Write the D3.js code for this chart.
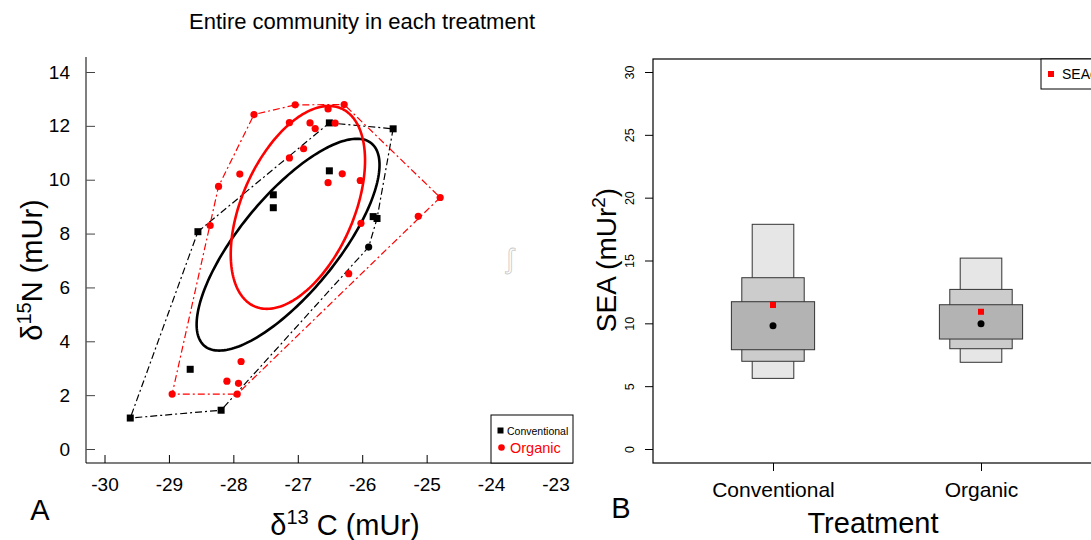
<!DOCTYPE html>
<html>
<head>
<meta charset="utf-8">
<script src="https://cdnjs.cloudflare.com/ajax/libs/d3/7.8.5/d3.min.js"></script>
<style>
  body { margin: 0; background: #fff; }
  text { font-family: "Liberation Sans", Arial, sans-serif; }
</style>
</head>
<body>
<div class="chart"></div>
<script>
// ---- data: panel A (isotope values per sample) ----
var convC = [-29.60, -28.19, -28.67, -28.55, -27.38, -27.38, -26.51, -26.51, -25.52, -25.83, -25.77];
var convN = [1.15, 1.44, 2.96, 8.07, 9.44, 8.96, 12.11, 10.33, 11.89, 8.63, 8.56];
// one conventional sample is plotted with a round symbol
var convRoundC = [-25.90];
var convRoundN = [7.50];

var orgC = [-28.95, -27.94, -28.10, -27.92, -27.88, -28.36, -28.23, -27.90, -27.68, -27.04,
            -26.53, -26.28, -27.13, -26.81, -26.73, -26.91, -27.13, -26.53, -26.42, -26.31,
            -26.03, -24.79, -25.13, -26.02, -26.21];
var orgN = [2.04, 2.04, 2.52, 2.44, 3.25, 8.30, 9.75, 10.21, 12.42, 12.78,
            12.63, 12.79, 12.12, 12.11, 11.90, 11.15, 10.81, 9.89, 12.10, 10.22,
            9.97, 9.34, 8.64, 8.38, 6.51];

var xTicks = [-30, -29, -28, -27, -26, -25, -24, -23];
var yTicks = [0, 2, 4, 6, 8, 10, 12, 14];

// ---- data: panel B (posterior SEA credible intervals) ----
var groups = ["Conventional", "Organic"];
var ci95lo = [5.62, 6.90], ci95hi = [17.88, 15.19];
var ci75lo = [6.98, 7.98], ci75hi = [13.63, 12.70];
var ci50lo = [7.90, 8.75], ci50hi = [11.72, 11.48];
var seaMode = [9.81, 9.97];
var seaC = [11.46, 10.92];
var seaTicks = [0, 5, 10, 15, 20, 25, 30];

var svg = d3.select(".chart").append("svg")
  .attr("width", 1091)
  .attr("height", 540);

// small sample corrected standard ellipse from the points
function seacEllipse(xs, ys) {
  var n = xs.length, mx = d3.mean(xs), my = d3.mean(ys);
  var sxx = 0, syy = 0, sxy = 0;
  for (var i = 0; i < n; i++) {
    sxx += (xs[i] - mx) * (xs[i] - mx);
    syy += (ys[i] - my) * (ys[i] - my);
    sxy += (xs[i] - mx) * (ys[i] - my);
  }
  sxx /= n - 1; syy /= n - 1; sxy /= n - 1;
  var k = (n - 1) / (n - 2);
  var tr = sxx + syy, det = sxx * syy - sxy * sxy;
  var disc = Math.sqrt(tr * tr / 4 - det);
  var l1 = tr / 2 + disc, l2 = tr / 2 - disc;
  var th = Math.atan2(l1 - sxx, sxy);
  var a = Math.sqrt(l1 * k), b = Math.sqrt(l2 * k);
  return d3.range(0, 201).map(function (j) {
    var t = 2 * Math.PI * j / 200;
    var u = a * Math.cos(t), v = b * Math.sin(t);
    return [mx + u * Math.cos(th) - v * Math.sin(th), my + u * Math.sin(th) + v * Math.cos(th)];
  });
}

// plain hyphen minus like R
function plain(d) { return String(d); }

// =============== Panel A ===============
var x = d3.scaleLinear().domain([-30, -23]).range([104.5, 555.5]);
var y = d3.scaleLinear().domain([0, 14]).range([449, 72]);
var aLeft = 86, aRight = 573, aTop = 57, aBottom = 463;

svg.append("text")
  .attr("x", 362).attr("y", 29)
  .attr("text-anchor", "middle")
  .attr("font-size", "22px")
  .text("Entire community in each treatment");

var gA = svg.append("g");

// axes (ticks point inward)
var leftAxis = d3.axisLeft(y).tickValues(yTicks).tickFormat(plain).tickSize(-9).tickPadding(16);
var gy = gA.append("g").attr("transform", "translate(" + aLeft + ",0)").call(leftAxis);
gy.select(".domain").remove();
gy.selectAll("line").attr("stroke", "#444");
gy.selectAll("text").attr("font-size", "19px").attr("fill", "#000")
  .attr("font-family", "Liberation Sans, Arial, sans-serif");

var bottomAxis = d3.axisBottom(x).tickValues(xTicks).tickFormat(plain).tickSize(-8).tickPadding(15);
var gx = gA.append("g").attr("transform", "translate(0," + aBottom + ")").call(bottomAxis);
gx.select(".domain").remove();
gx.selectAll("line").attr("stroke", "#000");
gx.selectAll("text").attr("font-size", "19px").attr("fill", "#000")
  .attr("font-family", "Liberation Sans, Arial, sans-serif");

gA.append("line").attr("x1", aLeft).attr("x2", aLeft).attr("y1", aTop).attr("y2", aBottom)
  .attr("stroke", "#555").attr("stroke-width", 1.5);
gA.append("line").attr("x1", aLeft).attr("x2", aRight).attr("y1", aBottom).attr("y2", aBottom)
  .attr("stroke", "#000").attr("stroke-width", 1.2);

var convPts = convC.map(function (c, i) { return [c, convN[i]]; })
  .concat(convRoundC.map(function (c, i) { return [c, convRoundN[i]]; }));
var orgPts = orgC.map(function (c, i) { return [c, orgN[i]]; });

var line = d3.line().x(function (d) { return x(d[0]); }).y(function (d) { return y(d[1]); });

// convex hulls
[[convPts, "#000"], [orgPts, "#f00"]].forEach(function (s) {
  var hull = d3.polygonHull(s[0]);
  gA.append("path")
    .attr("d", line(hull) + "Z")
    .attr("fill", "none")
    .attr("stroke", s[1])
    .attr("stroke-width", 1.2)
    .attr("stroke-dasharray", "7,3,2,3");
});

// SEAc ellipses
[[convPts, "#000"], [orgPts, "#f00"]].forEach(function (s) {
  var xs = s[0].map(function (d) { return d[0]; });
  var ys = s[0].map(function (d) { return d[1]; });
  gA.append("path")
    .attr("d", line(seacEllipse(xs, ys)))
    .attr("fill", "none")
    .attr("stroke", s[1])
    .attr("stroke-width", 2.6);
});

// points
gA.selectAll(".conv").data(convC).enter().append("rect")
  .attr("class", "conv")
  .attr("x", function (d) { return x(d) - 3.5; })
  .attr("y", function (d, i) { return y(convN[i]) - 3.5; })
  .attr("width", 7).attr("height", 7)
  .attr("fill", "#000");
gA.selectAll(".convr").data(convRoundC).enter().append("circle")
  .attr("class", "convr")
  .attr("cx", function (d) { return x(d); })
  .attr("cy", function (d, i) { return y(convRoundN[i]); })
  .attr("r", 3.6).attr("fill", "#000");
gA.selectAll(".org").data(orgC).enter().append("circle")
  .attr("class", "org")
  .attr("cx", function (d) { return x(d); })
  .attr("cy", function (d, i) { return y(orgN[i]); })
  .attr("r", 3.6).attr("fill", "#f00");

// legend bottom right
gA.append("rect").attr("x", 491).attr("y", 415).attr("width", aRight - 491).attr("height", aBottom - 415)
  .attr("fill", "#fff").attr("stroke", "#000").attr("stroke-width", 1);
gA.append("rect").attr("x", 497.5).attr("y", 427.5).attr("width", 6).attr("height", 6).attr("fill", "#000");
gA.append("text").attr("x", 507).attr("y", 435).attr("font-size", "10.5px").text("Conventional");
gA.append("circle").attr("cx", 501.5).attr("cy", 447.5).attr("r", 3.3).attr("fill", "#f00");
gA.append("text").attr("x", 510).attr("y", 452.5).attr("font-size", "14.5px").attr("fill", "#f00").text("Organic");

// axis titles
var yl = svg.append("text")
  .attr("transform", "translate(42,270) rotate(-90)")
  .attr("text-anchor", "middle")
  .attr("font-size", "29px");
yl.append("tspan").text("δ");
yl.append("tspan").attr("dy", -11).attr("font-size", "20px").text("15");
yl.append("tspan").attr("dy", 11).text("N (mUr)");

var xl = svg.append("text")
  .attr("x", 345).attr("y", 535)
  .attr("text-anchor", "middle")
  .attr("font-size", "29px");
xl.append("tspan").text("δ");
xl.append("tspan").attr("dy", -11).attr("font-size", "20px").text("13");
xl.append("tspan").attr("dy", 11).text(" C (mUr)");

svg.append("text").attr("x", 40).attr("y", 520).attr("text-anchor", "middle")
  .attr("font-size", "29px").text("A");

// faint stray mark
svg.append("text").attr("x", 510).attr("y", 268).attr("text-anchor", "middle")
  .attr("font-size", "28px").attr("fill", "none").attr("stroke", "#c8c8c8").attr("stroke-width", 0.8)
  .text("ʃ");

// =============== Panel B ===============
var xb = d3.scaleLinear().domain([1, 2]).range([773, 981]);
var yb = d3.scaleLinear().domain([0, 30]).range([449, 72]);
var bLeft = 653, bRight = 1098, bTop = 59, bBottom = 463;

var gB = svg.append("g");

var bLeftAxis = d3.axisLeft(yb).tickValues(seaTicks).tickFormat(plain).tickSize(8).tickSizeOuter(0).tickPadding(4);
var gby = gB.append("g").attr("transform", "translate(" + bLeft + ",0)").call(bLeftAxis);
gby.select(".domain").remove();
gby.selectAll("text")
  .attr("font-size", "12.5px")
  .attr("font-family", "Liberation Sans, Arial, sans-serif")
  .attr("text-anchor", "middle")
  .attr("dy", 0)
  .attr("x", 0)
  .attr("transform", "translate(-19,0) rotate(-90)");

var bBottomAxis = d3.axisBottom(xb).tickValues([1, 2])
  .tickFormat(function (d) { return groups[d - 1]; })
  .tickSize(8).tickSizeOuter(0).tickPadding(11);
var gbx = gB.append("g").attr("transform", "translate(0," + bBottom + ")").call(bBottomAxis);
gbx.select(".domain").remove();
gbx.selectAll("text").attr("font-size", "21px")
  .attr("font-family", "Liberation Sans, Arial, sans-serif");

var widths = [0.1, 0.15, 0.2];
var boxes = [[ci95lo, ci95hi, "#e6e6e6", widths[0]],
             [ci75lo, ci75hi, "#cccccc", widths[1]],
             [ci50lo, ci50hi, "#b3b3b3", widths[2]]];
boxes.forEach(function (b) {
  gB.selectAll(null).data(groups).enter().append("rect")
    .attr("x", function (d, i) { return xb(i + 1 - b[3]); })
    .attr("width", function (d, i) { return xb(i + 1 + b[3]) - xb(i + 1 - b[3]); })
    .attr("y", function (d, i) { return yb(b[1][i]); })
    .attr("height", function (d, i) { return yb(b[0][i]) - yb(b[1][i]); })
    .attr("fill", b[2])
    .attr("stroke", "#333")
    .attr("stroke-width", 1);
});

gB.selectAll(".mode").data(seaMode).enter().append("circle")
  .attr("cx", function (d, i) { return xb(i + 1); })
  .attr("cy", function (d) { return yb(d); })
  .attr("r", 3.5).attr("fill", "#000");
gB.selectAll(".seac").data(seaC).enter().append("rect")
  .attr("x", function (d, i) { return xb(i + 1) - 3; })
  .attr("y", function (d) { return yb(d) - 3; })
  .attr("width", 6).attr("height", 6).attr("fill", "#f00");

gB.append("rect").attr("x", bLeft).attr("y", bTop).attr("width", bRight - bLeft).attr("height", bBottom - bTop)
  .attr("fill", "none").attr("stroke", "#000").attr("stroke-width", 1.2);

// legend top right (runs off the right edge, as in the original)
gB.append("rect").attr("x", 1041).attr("y", bTop).attr("width", 80).attr("height", 30)
  .attr("fill", "#fff").attr("stroke", "#000").attr("stroke-width", 1);
gB.append("rect").attr("x", 1048).attr("y", 71).attr("width", 6).attr("height", 6).attr("fill", "#f00");
gB.append("text").attr("x", 1062).attr("y", 79).attr("font-size", "14px").text("SEAc");

var syl = svg.append("text")
  .attr("transform", "translate(616,260) rotate(-90)")
  .attr("text-anchor", "middle")
  .attr("font-size", "28px");
syl.append("tspan").text("SEA (mUr");
syl.append("tspan").attr("dy", -11).attr("font-size", "19px").text("2");
syl.append("tspan").attr("dy", 11).text(")");

svg.append("text").attr("x", 873).attr("y", 533).attr("text-anchor", "middle")
  .attr("font-size", "29px").text("Treatment");
svg.append("text").attr("x", 621).attr("y", 518).attr("text-anchor", "middle")
  .attr("font-size", "29px").text("B");
</script>
</body>
</html>
